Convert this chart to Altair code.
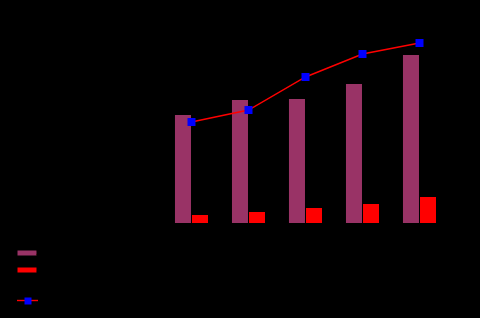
import altair as alt
import pandas as pd

categories = ["Q1", "Q2", "Q3", "Q4", "Q5"]
series_a = [108, 123, 124, 139, 168]
series_b = [8, 11, 15, 19, 26]
series_c = [101, 113, 146, 169, 180]

bars = pd.DataFrame({
    "category": categories * 2,
    "series": ["Series A"] * 5 + ["Series B"] * 5,
    "value": series_a + series_b,
})
line = pd.DataFrame({
    "category": categories,
    "line_series": ["Series C"] * 5,
    "point_series": ["Series C"] * 5,
    "value": series_c,
})

x_scale = alt.Scale(domain=categories, paddingInner=0.42, paddingOuter=0.21)
y_scale = alt.Scale(domain=[0, 200], nice=False)
x_axis = alt.Axis(title=None, labelColor="black", domain=False, ticks=False, grid=False)
y_axis = alt.Axis(title=None, labelColor="black", domain=False, ticks=False, grid=False)

bar_layer = alt.Chart(bars).mark_bar().encode(
    x=alt.X("category:N", scale=x_scale, axis=x_axis, sort=categories),
    xOffset=alt.XOffset("series:N", scale=alt.Scale(paddingInner=0.06)),
    y=alt.Y("value:Q", scale=y_scale, axis=y_axis),
    color=alt.Color(
        "series:N",
        scale=alt.Scale(domain=["Series A", "Series B"], range=["#993366", "#ff0000"]),
        legend=alt.Legend(
            title=None, orient="none", legendX=-141, legendY=225,
            symbolType="M-1.9,-0.5H1.9V0.5H-1.9Z", symbolSize=100,
            symbolStrokeWidth=0, labelColor="black", labelFontSize=10,
            rowPadding=7,
        ),
    ),
)

line_layer = alt.Chart(line).mark_line(strokeWidth=1.4).encode(
    x=alt.X("category:N", scale=x_scale, axis=x_axis, sort=categories),
    y=alt.Y("value:Q", scale=y_scale, axis=y_axis),
    stroke=alt.Stroke(
        "line_series:N",
        scale=alt.Scale(domain=["Series C"], range=["#ff0000"]),
        legend=alt.Legend(
            title=None, orient="none", legendX=-147, legendY=266,
            symbolType="stroke", symbolSize=441, symbolStrokeWidth=1.4,
            labelColor="black",
        ),
    ),
)

point_layer = alt.Chart(line).mark_point(filled=True, size=64, opacity=1, color="#0000ff").encode(
    x=alt.X("category:N", scale=x_scale, axis=x_axis, sort=categories),
    y=alt.Y("value:Q", scale=y_scale, axis=y_axis),
    shape=alt.Shape(
        "point_series:N",
        scale=alt.Scale(domain=["Series C"], range=["square"]),
        legend=alt.Legend(
            title=None, orient="none", legendX=-140, legendY=273,
            symbolSize=49, symbolFillColor="#0000ff", symbolStrokeWidth=0,
            symbolOpacity=1, labelColor="black", labelExpr="''",
        ),
    ),
)

chart = alt.layer(bar_layer, line_layer, point_layer).resolve_scale(
    stroke="independent", shape="independent"
).properties(
    width=285, height=200,
    background="black",
    padding={"left": 163, "top": 23, "right": 32, "bottom": 95},
    autosize=alt.AutoSizeParams(type="none"),
).configure_view(stroke=None)

chart.save("out.html", embed_options={"renderer": "svg", "actions": False})
